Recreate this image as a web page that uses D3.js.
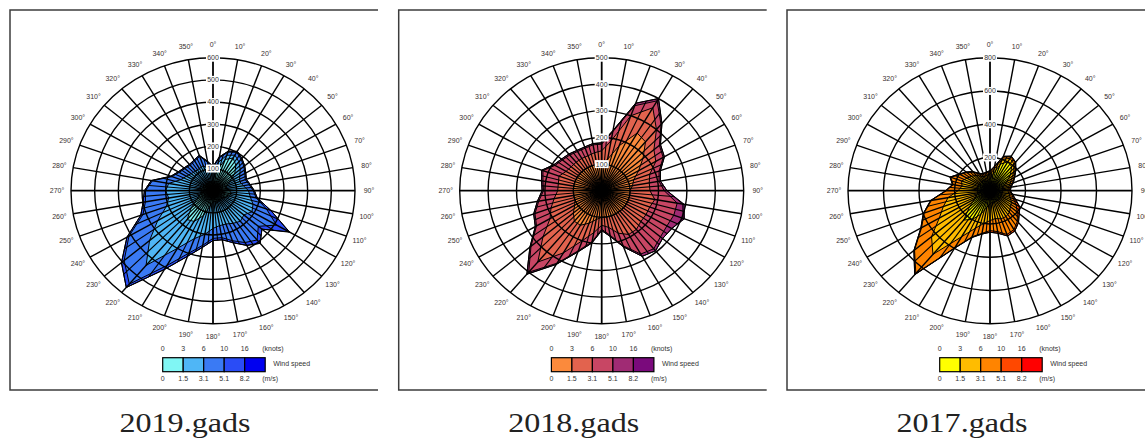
<!DOCTYPE html>
<html>
<head>
<meta charset="utf-8">
<script src="https://cdn.jsdelivr.net/npm/d3@7"></script>
<style>
  body { margin: 0; background: #fff; }
  svg { display: block; }
</style>
</head>
<body>
<div id="chart"></div>
<script>
// wind directions (degrees)
var directions = [0, 10, 20, 30, 40, 50, 60, 70, 80, 90, 100, 110, 120, 130, 140, 150, 160, 170,
                  180, 190, 200, 210, 220, 230, 240, 250, 260, 270, 280, 290, 300, 310, 320, 330, 340, 350];

// legend labels
var knotLabels = ["0", "3", "6", "10", "16"];
var msLabels = ["0", "1.5", "3.1", "5.1", "8.2"];

// ring ticks
var ticks2019 = [100, 200, 300, 400, 500, 600];
var ticks2018 = [100, 200, 300, 400, 500];
var ticks2017 = [200, 400, 600, 800];

// 2019 - counts per speed bin (0-1.5, 1.5-3.1, 3.1-5.1, 5.1-8.2, >8.2 m/s)
var y2019_b1 = [50, 90, 150, 170, 150, 120, 80, 60, 60, 70, 80, 70, 60, 50, 50, 50, 50, 50, 50, 70, 120, 160, 170, 120, 80, 60, 50, 50, 50, 45, 45, 40, 40, 40, 40, 40];
var y2019_b2 = [40, 40, 20, 15, 20, 30, 50, 60, 70, 80, 80, 110, 130, 120, 130, 120, 110, 110, 120, 130, 110, 140, 270, 230, 190, 150, 140, 150, 140, 100, 85, 80, 75, 75, 80, 60];
var y2019_b3 = [15, 20, 15, 15, 15, 20, 25, 25, 25, 20, 25, 60, 120, 80, 110, 100, 80, 55, 45, 50, 70, 90, 110, 140, 140, 105, 100, 85, 70, 40, 35, 35, 35, 40, 45, 30];
var y2019_b4 = [5, 5, 5, 5, 5, 5, 5, 5, 5, 5, 5, 20, 60, 20, 20, 15, 10, 10, 10, 10, 15, 20, 20, 15, 10, 10, 10, 5, 5, 5, 5, 5, 5, 5, 5, 5];
var y2019_b5 = [0, 0, 0, 0, 0, 0, 0, 0, 0, 0, 0, 0, 5, 0, 0, 0, 0, 0, 0, 0, 0, 0, 0, 0, 0, 0, 0, 0, 0, 0, 0, 0, 0, 0, 0, 0];

// 2018
var y2018_b1 = [100, 120, 180, 250, 240, 190, 150, 120, 110, 100, 100, 100, 100, 100, 100, 100, 100, 100, 100, 110, 130, 150, 150, 130, 110, 100, 100, 100, 100, 100, 100, 100, 100, 100, 100, 100];
var y2018_b2 = [50, 70, 120, 110, 60, 50, 70, 60, 60, 70, 90, 80, 80, 80, 90, 90, 70, 40, 30, 50, 70, 120, 200, 140, 100, 90, 70, 55, 55, 60, 45, 40, 40, 40, 40, 45];
var y2018_b3 = [25, 35, 40, 30, 25, 25, 30, 35, 35, 50, 80, 90, 85, 90, 95, 85, 50, 30, 15, 35, 40, 45, 50, 55, 55, 60, 55, 50, 55, 60, 45, 40, 35, 30, 30, 30];
var y2018_b4 = [5, 5, 10, 10, 5, 5, 5, 5, 5, 10, 20, 35, 20, 10, 10, 10, 5, 5, 5, 5, 5, 5, 10, 5, 5, 5, 5, 5, 5, 5, 5, 5, 5, 5, 5, 5];
var y2018_b5 = [0, 0, 0, 0, 0, 0, 0, 0, 0, 0, 5, 5, 0, 0, 0, 0, 0, 0, 0, 0, 0, 0, 0, 0, 0, 0, 0, 0, 0, 0, 0, 0, 0, 0, 0, 0];

// 2017
var y2017_b1 = [70, 100, 170, 200, 190, 150, 110, 80, 70, 70, 70, 70, 70, 70, 70, 70, 70, 70, 80, 100, 150, 200, 230, 150, 100, 80, 70, 70, 70, 70, 70, 70, 70, 70, 60, 65];
var y2017_b2 = [30, 30, 30, 25, 20, 25, 30, 40, 35, 30, 40, 50, 70, 80, 100, 110, 110, 100, 100, 100, 90, 120, 270, 280, 230, 200, 170, 110, 90, 100, 80, 65, 50, 30, 30, 30];
var y2017_b3 = [15, 15, 15, 10, 10, 10, 15, 15, 10, 10, 15, 20, 30, 50, 70, 90, 100, 80, 60, 60, 55, 75, 150, 125, 115, 115, 95, 65, 50, 65, 45, 35, 25, 15, 15, 15];
var y2017_b4 = [5, 5, 5, 5, 5, 5, 5, 5, 5, 5, 5, 10, 20, 15, 10, 10, 10, 10, 10, 5, 5, 5, 10, 5, 5, 5, 5, 5, 5, 5, 5, 5, 5, 5, 5, 5];
var y2017_b5 = [0, 0, 0, 0, 0, 0, 0, 0, 0, 0, 0, 5, 5, 0, 0, 0, 0, 0, 0, 0, 0, 0, 0, 0, 0, 0, 0, 0, 0, 0, 0, 0, 0, 0, 0, 0];

var blues = ["#80f6f4", "#4fb6f6", "#3a7af4", "#2a4cf6", "#0000f0"];
var purples = ["#fb8a3c", "#e2634e", "#c84664", "#a02b74", "#7a0a7c"];
var yellows = ["#ffff00", "#ffbc00", "#ff8400", "#ff4800", "#ff0000"];

var panels = [
  {title: "2019.gads", cx: 213, max: 600, ticks: ticks2019, bins: [y2019_b1, y2019_b2, y2019_b3, y2019_b4, y2019_b5], colors: blues},
  {title: "2018.gads", cx: 601.7, max: 500, ticks: ticks2018, bins: [y2018_b1, y2018_b2, y2018_b3, y2018_b4, y2018_b5], colors: purples},
  {title: "2017.gads", cx: 990, max: 800, ticks: ticks2017, bins: [y2017_b1, y2017_b2, y2017_b3, y2017_b4, y2017_b5], colors: yellows}
];

var cy = 190.7, rx = 142, ry = 133;
var labelFont = "'Liberation Sans', Arial, sans-serif";

var svg = d3.select("#chart")
    .append("svg")
    .attr("width", 1145)
    .attr("height", 438);

var defs = svg.append("defs");
var angle = d3.scaleLinear().domain([0, 360]).range([0, 2 * Math.PI]);
var line = d3.line().curve(d3.curveLinearClosed);

panels.forEach(function(p, pi) {
  var cx = p.cx;
  var r = d3.scaleLinear().domain([0, p.max]).range([0, 1]);
  var g = svg.append("g");

  function pt(deg, v, ex, ey) {
    var a = angle(deg), k = r(v);
    return [cx + (ex || rx) * k * Math.sin(a), cy - (ey || ry) * k * Math.cos(a)];
  }

  // frame (left, top, bottom)
  g.append("path")
      .attr("d", "M" + (cx + 165) + ",10H" + (cx - 203) + "V390H" + (cx + 165))
      .attr("fill", "none")
      .attr("stroke", "#3c3c3c")
      .attr("stroke-width", 1.5);

  // cumulative totals
  var cum = [];
  p.bins.forEach(function(b, k) {
    cum.push(b.map(function(v, i) { return v + (k > 0 ? cum[k - 1][i] : 0); }));
  });

  function shape(k) {
    return line(directions.map(function(d, i) { return pt(d, cum[k][i]); }));
  }

  // filled speed bins, outer first
  for (var k = 4; k >= 0; k--) {
    g.append("path")
        .attr("d", shape(k))
        .attr("fill", p.colors[k])
        .attr("stroke", "none");
  }

  // sector edges inside the rose
  defs.append("clipPath").attr("id", "clip" + pi)
      .append("path").attr("d", shape(4));

  g.append("g")
      .attr("clip-path", "url(#clip" + pi + ")")
      .selectAll("line")
      .data(directions)
      .join("line")
      .attr("x1", cx).attr("y1", cy)
      .attr("x2", function(d) { return pt(d + 5, p.max)[0]; })
      .attr("y2", function(d) { return pt(d + 5, p.max)[1]; })
      .attr("stroke", "#000")
      .attr("stroke-width", 1.1);

  // rings
  g.append("g").selectAll("ellipse")
      .data(p.ticks)
      .join("ellipse")
      .attr("cx", cx).attr("cy", cy)
      .attr("rx", function(t) { return rx * r(t); })
      .attr("ry", function(t) { return ry * r(t); })
      .attr("fill", "none")
      .attr("stroke", "#000")
      .attr("stroke-width", 1.4);

  // spokes
  g.append("g").selectAll("line")
      .data(directions)
      .join("line")
      .attr("x1", cx).attr("y1", cy)
      .attr("x2", function(d) { return pt(d, p.max)[0]; })
      .attr("y2", function(d) { return pt(d, p.max)[1]; })
      .attr("stroke", "#000")
      .attr("stroke-width", function(d) { return d % 90 === 0 ? 1.8 : 1.4; });

  // bin outlines
  for (var j = 4; j >= 0; j--) {
    g.append("path")
        .attr("d", shape(j))
        .attr("fill", "none")
        .attr("stroke", "#000")
        .attr("stroke-width", 1);
  }

  // ring labels
  var rl = g.append("g").selectAll("g")
      .data(p.ticks)
      .join("g")
      .attr("transform", function(t) { var q = pt(0, t); return "translate(" + q[0] + "," + q[1] + ")"; });
  rl.append("rect")
      .attr("x", -7).attr("y", -4).attr("width", 14).attr("height", 8)
      .attr("fill", "#fff");
  rl.append("text")
      .attr("text-anchor", "middle")
      .attr("dy", "0.35em")
      .attr("font-family", labelFont)
      .attr("font-size", 7)
      .attr("fill", "#333")
      .text(function(t) { return t; });

  // direction labels
  g.append("g").selectAll("text")
      .data(directions)
      .join("text")
      .attr("x", function(d) { return pt(d, p.max, 156, 146)[0]; })
      .attr("y", function(d) { return pt(d, p.max, 156, 146)[1]; })
      .attr("text-anchor", "middle")
      .attr("dy", "0.35em")
      .attr("font-family", labelFont)
      .attr("font-size", 7)
      .attr("fill", "#3a3030")
      .text(function(d) { return d + "°"; });

  // legend
  var lx = cx - 50.3, bw = 20.5;
  var lg = g.append("g");
  lg.selectAll("rect")
      .data(p.colors)
      .join("rect")
      .attr("x", function(c, i) { return lx + i * bw; })
      .attr("y", 357.7)
      .attr("width", bw).attr("height", 14)
      .attr("fill", function(c) { return c; })
      .attr("stroke", "#000")
      .attr("stroke-width", 1.2);
  lg.selectAll(".kn")
      .data(knotLabels)
      .join("text")
      .attr("class", "kn")
      .attr("x", function(t, i) { return lx + i * bw; })
      .attr("y", 350.5)
      .attr("text-anchor", "middle")
      .attr("font-family", labelFont).attr("font-size", 7).attr("fill", "#333")
      .text(function(t) { return t; });
  lg.selectAll(".ms")
      .data(msLabels)
      .join("text")
      .attr("class", "ms")
      .attr("x", function(t, i) { return lx + i * bw; })
      .attr("y", 380.5)
      .attr("text-anchor", "middle")
      .attr("font-family", labelFont).attr("font-size", 7).attr("fill", "#333")
      .text(function(t) { return t; });
  lg.append("text")
      .attr("x", lx + 5 * bw - 3).attr("y", 350.5)
      .attr("font-family", labelFont).attr("font-size", 7).attr("fill", "#333")
      .text("(knots)");
  lg.append("text")
      .attr("x", lx + 5 * bw - 3).attr("y", 380.5)
      .attr("font-family", labelFont).attr("font-size", 7).attr("fill", "#333")
      .text("(m/s)");
  lg.append("text")
      .attr("x", lx + 5 * bw + 8).attr("y", 365.5)
      .attr("font-family", labelFont).attr("font-size", 7).attr("fill", "#333")
      .text("Wind speed");

  // title
  g.append("text")
      .attr("x", cx - 28)
      .attr("y", 431.7)
      .attr("text-anchor", "middle")
      .attr("font-family", "'Liberation Serif', 'Times New Roman', serif")
      .attr("font-size", 28)
      .attr("fill", "#222")
      .attr("textLength", 131)
      .attr("lengthAdjust", "spacingAndGlyphs")
      .text(p.title);
});
</script>
</body>
</html>
